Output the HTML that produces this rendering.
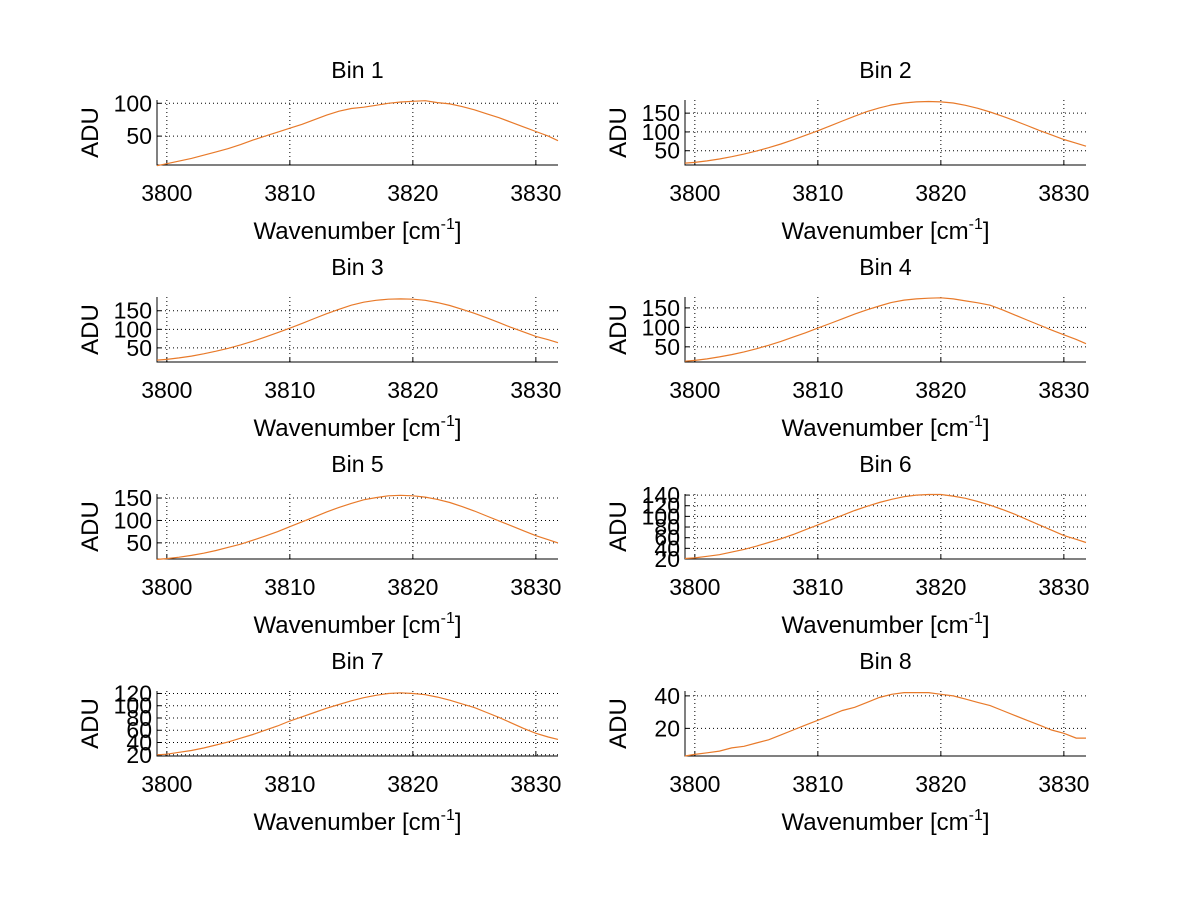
<!DOCTYPE html>
<html><head><meta charset="utf-8"><style>
html,body{margin:0;padding:0;background:#fff;}
svg{display:block;font-family:"Liberation Sans",sans-serif;}
</style></head><body>
<svg id="fig" width="1200" height="901" viewBox="0 0 1200 901" xmlns="http://www.w3.org/2000/svg">
<rect width="1200" height="901" fill="#fff"/>
</svg>
<script>
const wavenumbers=[3799,3800,3801,3802,3803,3804,3805,3806,3807,3808,3809,3810,3811,3812,3813,3814,3815,3816,3817,3818,3819,3820,3821,3822,3823,3824,3825,3826,3827,3828,3829,3830,3831,3832];
const xTicks=[3800,3810,3820,3830];
const bin1=[5,8,12,16,21,26,31,37,44,50,56,62,68,75,82,88,92,94,97,100,102,103,104,101,99,95,90,84,78,71,64,57,50,43];
const bin2=[17,19,23,28,34,41,49,58,68,79,91,103,116,129,142,154,164,172,177,180,181,180,177,171,163,153,142,130,117,104,92,80,70,62];
const bin3=[17,19,23,28,34,41,49,58,68,79,91,103,116,129,142,154,165,173,178,181,182,181,178,172,164,154,143,131,118,105,93,81,72,64];
const bin4=[13,15,19,24,30,37,45,54,64,75,86,98,110,122,134,145,155,164,170,173,175,176,173,168,163,157,145,132,119,106,93,81,69,58];
const bin5=[13,15,18,22,27,33,40,47,56,65,75,86,97,108,119,129,138,146,151,155,156,155,152,147,140,131,121,110,99,88,77,66,57,50];
const bin6=[21,22,25,28,33,38,44,51,58,66,75,84,93,102,111,119,126,132,137,140,141,141,138,134,128,121,113,104,94,84,74,64,57,51];
const bin7=[20,21,24,27,31,36,41,47,53,60,67,75,82,89,96,102,108,113,117,120,121,120,118,114,109,103,97,89,81,72,63,55,49,45];
const bin8=[3,4,5,6,8,9,11,13,16,19,22,25,28,31,33,36,39,41,42,42,42,41,40,38,36,34,31,28,25,22,19,17,14,14];
const series=[bin1,bin2,bin3,bin4,bin5,bin6,bin7,bin8];
const yRanges=[[6,105],[12,185],[12,187],[11,178],[14,159],[20,142],[18,124],[3,43]];
const yTickSets=[[50,100],[50,100,150],[50,100,150],[50,100,150],[50,100,150],[20,40,60,80,100,120,140],[20,40,60,80,100,120],[20,40]];
const binTitles=["Bin 1","Bin 2","Bin 3","Bin 4","Bin 5","Bin 6","Bin 7","Bin 8"];

const NS="http://www.w3.org/2000/svg";
const svg=document.getElementById('fig');
function mk(tag,attrs,parent){const e=document.createElementNS(NS,tag);for(const k in attrs)e.setAttribute(k,attrs[k]);(parent||svg).appendChild(e);return e;}
const X0=3799.2,X1=3831.8;
for(let i=0;i<8;i++){
  const col=i%2,row=Math.floor(i/2);
  const L=col?685:157,R=col?1086:558,T=100+row*197,B=165+row*197;
  const [y0,y1]=yRanges[i];
  const sx=v=>L+(v-X0)/(X1-X0)*(R-L);
  const sy=v=>B-(v-y0)/(y1-y0)*(B-T);
  const g=mk('g',{});
  
  
  xTicks.forEach(t=>{
    const l=mk('line',{x1:sx(t),x2:sx(t),y1:T,y2:B,stroke:'#000','stroke-width':1,'stroke-dasharray':'1,3'},g);
    
    
    const tk=mk('line',{x1:sx(t),x2:sx(t),y1:B,y2:B-4,stroke:'#000'},g);
    
    
    const tx=mk('text',{x:sx(t),y:B+36,'text-anchor':'middle','font-size':23},g);
    tx.textContent=t;
    
    
  });
  yTickSets[i].forEach(t=>{
    const l=mk('line',{x1:L,x2:R,y1:sy(t),y2:sy(t),stroke:'#000','stroke-width':1,'stroke-dasharray':'1,3'},g);
    
    
    const tk=mk('line',{x1:L,x2:L+4,y1:sy(t),y2:sy(t),stroke:'#000'},g);
    
    
    const tx=mk('text',{x:L-5,y:sy(t)+8,'text-anchor':'end','font-size':23},g);
    tx.textContent=t;
    
    
  });
  const ax=mk('path',{d:`M${L},${T} L${L},${B} L${R},${B}`,fill:'none',stroke:'#000','stroke-width':1},g);
  
  
  let d='';
  series[i].forEach((v,j)=>{const x=Math.max(L,Math.min(R,sx(wavenumbers[j])));d+=(j?'L':'M')+x.toFixed(1)+','+sy(v).toFixed(1);});
  const p=mk('path',{d:d,fill:'none',stroke:'#e87a2a','stroke-width':1.2},g);
  
  
  const tt=mk('text',{x:(L+R)/2,y:T-22,'text-anchor':'middle','font-size':23},g);
  tt.textContent=binTitles[i];
  
  
  const yl=mk('text',{x:0,y:0,'text-anchor':'middle','font-size':24,transform:`translate(${L-59},${(T+B)/2}) rotate(-90)`},g);
  yl.textContent='ADU';
  
  
  const xl=mk('text',{x:(L+R)/2,y:B+74,'text-anchor':'middle','font-size':24},g);
  xl.innerHTML='Wavenumber [cm<tspan dy="-10" font-size="16">-1</tspan><tspan dy="10">]</tspan>';
  
  
}
</script>
</body></html>
